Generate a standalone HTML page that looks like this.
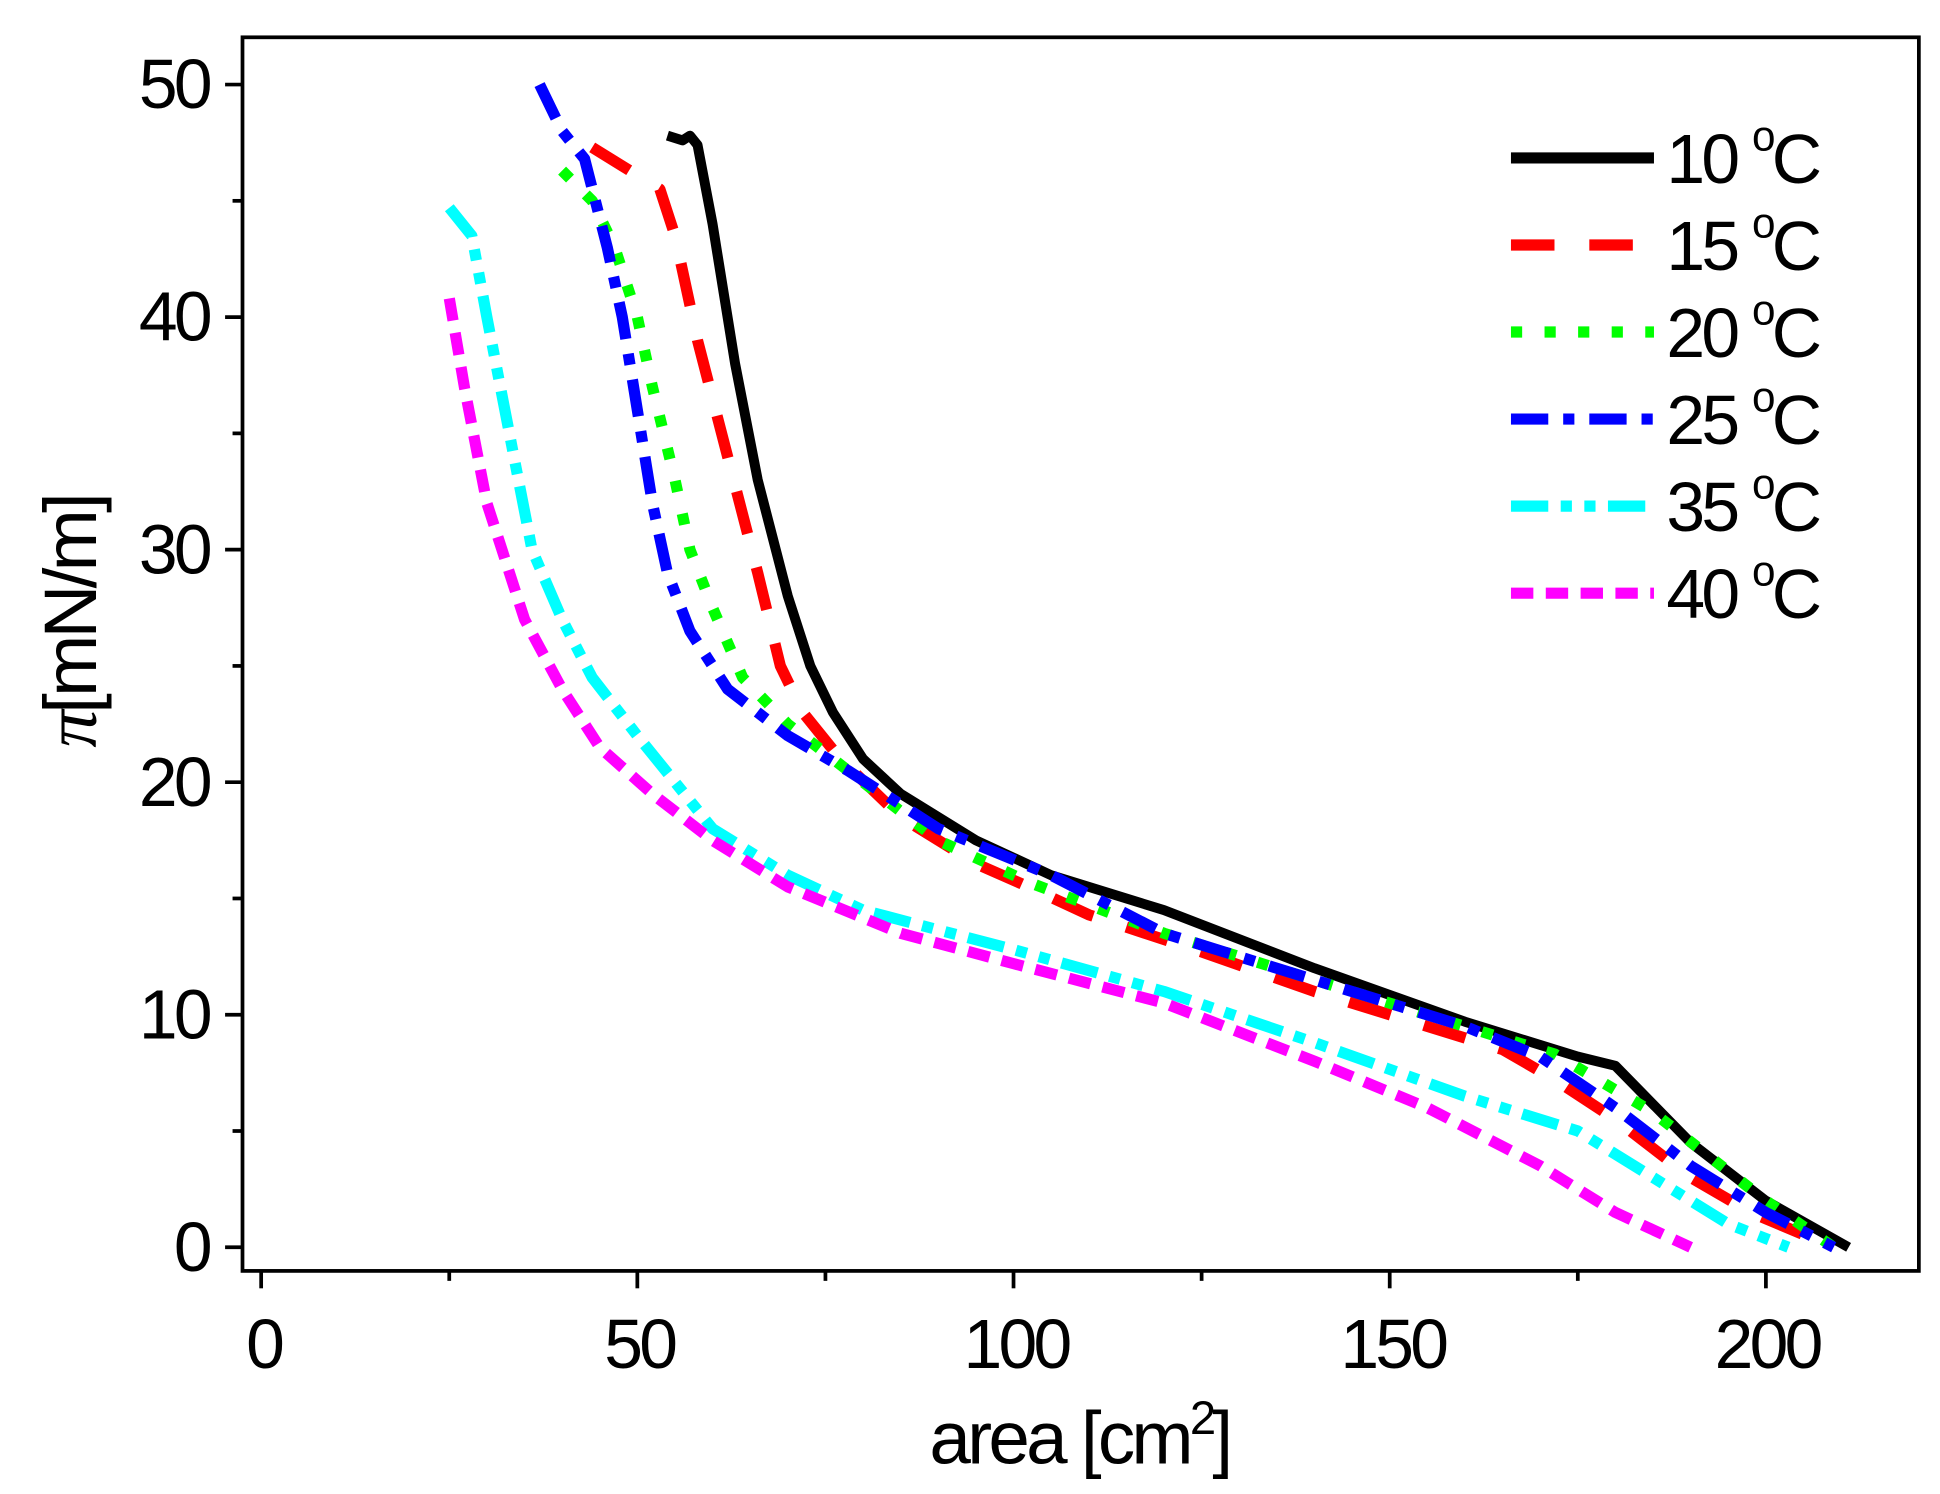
<!DOCTYPE html>
<html><head><meta charset="utf-8"><style>
html,body{margin:0;padding:0;background:#fff;}
svg{display:block;}
text{font-family:"Liberation Sans",Arial,sans-serif;fill:#000;}
</style></head><body>
<svg id="s" width="1940" height="1494" viewBox="0 0 1560 1201.4" preserveAspectRatio="none" xmlns="http://www.w3.org/2000/svg">
<rect x="0" y="0" width="1560" height="1202" fill="#fff"/>
<g id="plot"></g>
<rect x="195" y="30" width="1348" height="992" fill="none" stroke="#000" stroke-width="3"/>
<g id="ticks" stroke="#000" stroke-width="3"></g>
<g font-size="56" text-anchor="middle" letter-spacing="-3">
<text x="212" y="1100">0</text><text x="514" y="1100">50</text><text x="817" y="1100">100</text><text x="1120" y="1100">150</text><text x="1421" y="1100">200</text>
</g>
<g font-size="56" text-anchor="end" letter-spacing="-3">
<text x="168" y="1022">0</text><text x="168" y="835">10</text><text x="168" y="648">20</text><text x="168" y="461">30</text><text x="168" y="274">40</text><text x="168" y="87">50</text>
</g>
<text x="868" y="1177" font-size="60" text-anchor="middle" letter-spacing="-3">area [cm<tspan font-size="38" dy="-24">2</tspan><tspan dy="24">]</tspan></text>
<text transform="translate(77,500) rotate(-90)" font-size="60" text-anchor="middle" letter-spacing="-3"><tspan font-family="Liberation Serif" font-style="italic">π</tspan>[mN/m]</text>
<g id="leg"></g>
</svg>
<script>
var X=a=>210+a*6.05, Y=p=>1003-p*18.7;
var series=[
{c:"#000",d:"",w:8,p:[[54,47.8],[56,47.6],[57,47.8],[58,47.4],[60,44],[63,38],[66,33],[70,28],[73,25],[76,23],[80,21],[85,19.5],[95,17.5],[105,16],[120,14.5],[140,12],[160,9.7],[175,8.2],[180,7.8],[190,4.5],[200,2],[211,0]]},
{c:"#f00",d:"35 28",w:9,p:[[44,47.3],[48,46.5],[53,45.5],[55,43.5],[58,39],[62,34],[66,29],[69,25],[72,23],[77,21],[85,18.5],[95,16.5],[102,15.5],[110,14.3],[125,12.7],[140,11],[155,9.5],[165,8.5],[172,7.2],[180,5.5],[190,3],[198,1.5],[209,0]]},
{c:"#0f0",d:"9 18",w:9,p:[[40,46.3],[44,45],[47,43],[50,40],[52,37],[55,33],[57,30],[60,27.5],[64,24.5],[70,22.5],[80,20],[90,17.5],[102,15.7],[120,13.5],[140,11.5],[160,9.5],[172,8.3],[185,5.8],[200,2],[209,0]]},
{c:"#00f",d:"30 12 9 12",w:9,p:[[37,50],[40,48],[43,46.8],[46,43],[48,40],[50,36],[52,32],[54,29],[57,26.5],[62,24],[70,22],[78,20.5],[90,18],[105,16],[120,13.5],[140,11.5],[160,9.5],[170,8.2],[180,6],[190,3.5],[200,1.5],[209,0]]},
{c:"#0ff",d:"30 10 9 10 9 10",w:9,p:[[25,44.7],[28,43.5],[30,40],[33,35],[36,30],[40,27],[44,24.5],[50,22],[55,20],[60,18],[70,16],[80,14.5],[100,12.8],[120,11],[140,8.8],[160,6.5],[175,5],[185,3],[195,1],[203,0]]},
{c:"#f0f",d:"18 10",w:9,p:[[25,40.8],[27,37],[30,32],[35,27],[40,24],[45,21.5],[52,19.5],[60,17.5],[70,15.5],[85,13.5],[100,12.2],[120,10.5],[140,8],[155,6],[170,3.5],[180,1.5],[190,0]]}];
var labs=["10","15","20","25","35","40"];
var g=document.getElementById("plot"),L=document.getElementById("leg"),h="";
series.forEach((s,i)=>{
 var d=s.p.map((q,j)=>(j?"L":"M")+X(q[0]).toFixed(1)+" "+Y(q[1]).toFixed(1)).join(" ");
 h+='<path d="'+d+'" fill="none" stroke="'+s.c+'" stroke-width="'+s.w+'" stroke-dasharray="'+s.d+'" stroke-linejoin="round"/>';
});
g.innerHTML=h;
var lh="";
series.forEach((s,i)=>{var y=127+i*70;
 lh+='<line x1="1215" y1="'+y+'" x2="1330" y2="'+y+'" stroke="'+s.c+'" stroke-width="9" stroke-dasharray="'+s.d+'"/>';
 lh+='<text x="1340" y="'+(y+20)+'" font-size="56" letter-spacing="-3">'+labs[i]+' <tspan font-size="34" dy="-26">o</tspan><tspan dy="26">C</tspan></text>';
});
L.innerHTML=lh;
var t="";
for(var a=0;a<=200;a+=25){var x=X(a);t+='<line x1="'+x+'" y1="1022" x2="'+x+'" y2="'+(a%50?1030:1036)+'"/>';}
for(var p=0;p<=50;p+=5){var y=Y(p);t+='<line x1="195" y1="'+y+'" x2="'+(p%10?187:181)+'" y2="'+y+'"/>';}
document.getElementById("ticks").innerHTML=t;
</script>
</body></html>
